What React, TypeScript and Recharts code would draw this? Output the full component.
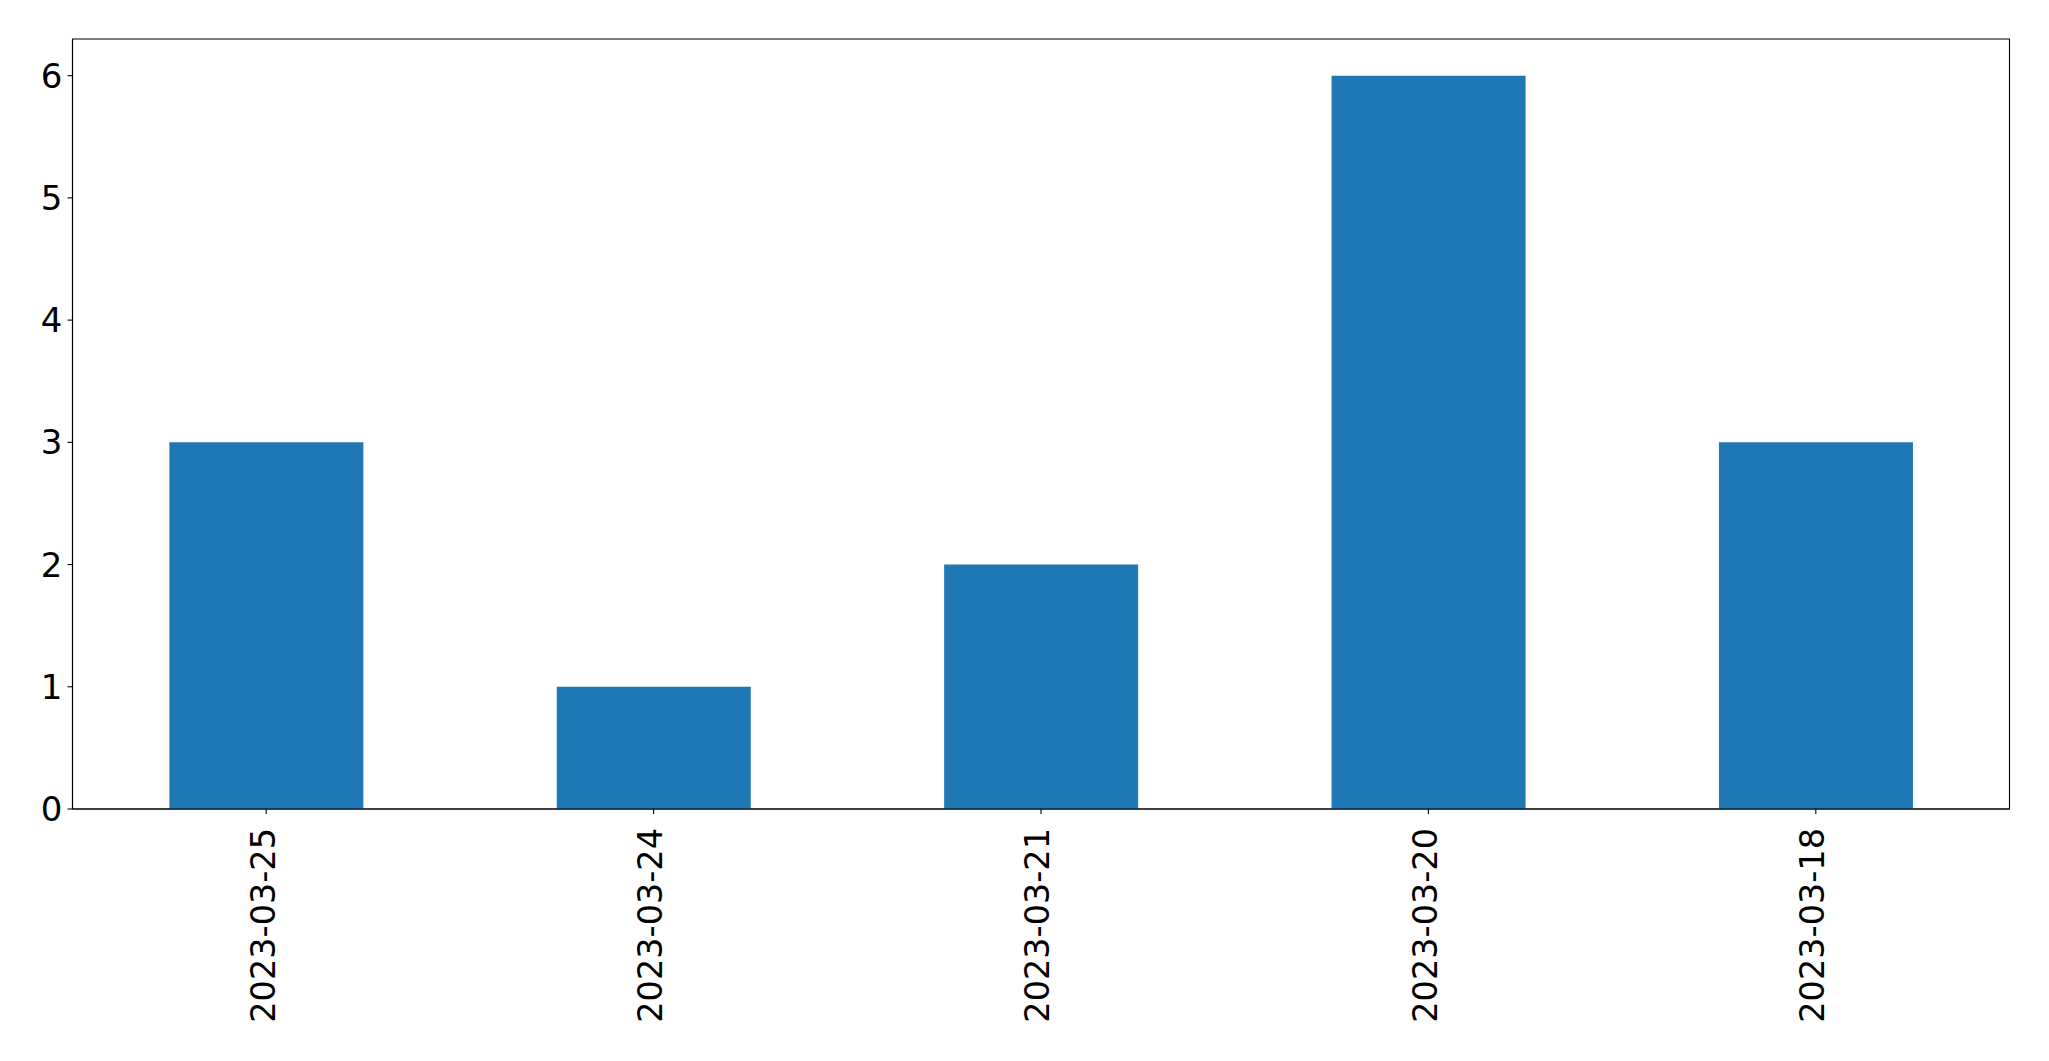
import React from "react";
import { BarChart, Bar, XAxis, YAxis, ReferenceArea } from "recharts";

const dates = ["2023-03-25", "2023-03-24", "2023-03-21", "2023-03-20", "2023-03-18"];
const counts = [3, 1, 2, 6, 3];
const yTicks = [0, 1, 2, 3, 4, 5, 6];
const yMax = 6.3;

const data = dates.map((d, i) => ({ date: d, count: counts[i] }));

const FONT = "'DejaVu Sans', sans-serif";

function DateTick(props: any) {
  const { x, y, payload } = props;
  const ty = y + 12;
  return (
    <text
      x={x}
      y={ty}
      transform={`rotate(-90, ${x}, ${ty})`}
      textAnchor="end"
      dy="0.25em"
      fontSize={33.5}
      fontFamily={FONT}
      fill="#000"
    >
      {payload.value}
    </text>
  );
}

export default function App() {
  return (
    <div style={{ position: "absolute", left: 0, top: 0, width: 2049, height: 1061, background: "#fff" }}>
      <BarChart
        width={2049}
        height={1061}
        data={data}
        margin={{ top: 39, right: 39.5, bottom: 0, left: 0 }}
        barCategoryGap="25%"
      >
        <XAxis
          dataKey="date"
          height={252}
          tick={<DateTick />}
          tickLine={{ stroke: "#000", strokeWidth: 1.1 }}
          tickSize={5}
          axisLine={{ stroke: "#000", strokeWidth: 1.1 }}
          interval={0}
        />
        <YAxis
          width={72.5}
          domain={[0, yMax]}
          ticks={yTicks}
          tickSize={5}
          tickMargin={5}
          tick={{ fontSize: 34, fontFamily: FONT, fill: "#000" }}
          tickLine={{ stroke: "#000", strokeWidth: 1.1 }}
          axisLine={{ stroke: "#000", strokeWidth: 1.1 }}
        />
        <Bar dataKey="count" fill="#1f77b4" isAnimationActive={false} />
        <ReferenceArea
          y1={0}
          y2={yMax}
          fill="none"
          fillOpacity={0}
          stroke="#000"
          strokeWidth={1.1}
          ifOverflow="visible"
        />
      </BarChart>
    </div>
  );
}
